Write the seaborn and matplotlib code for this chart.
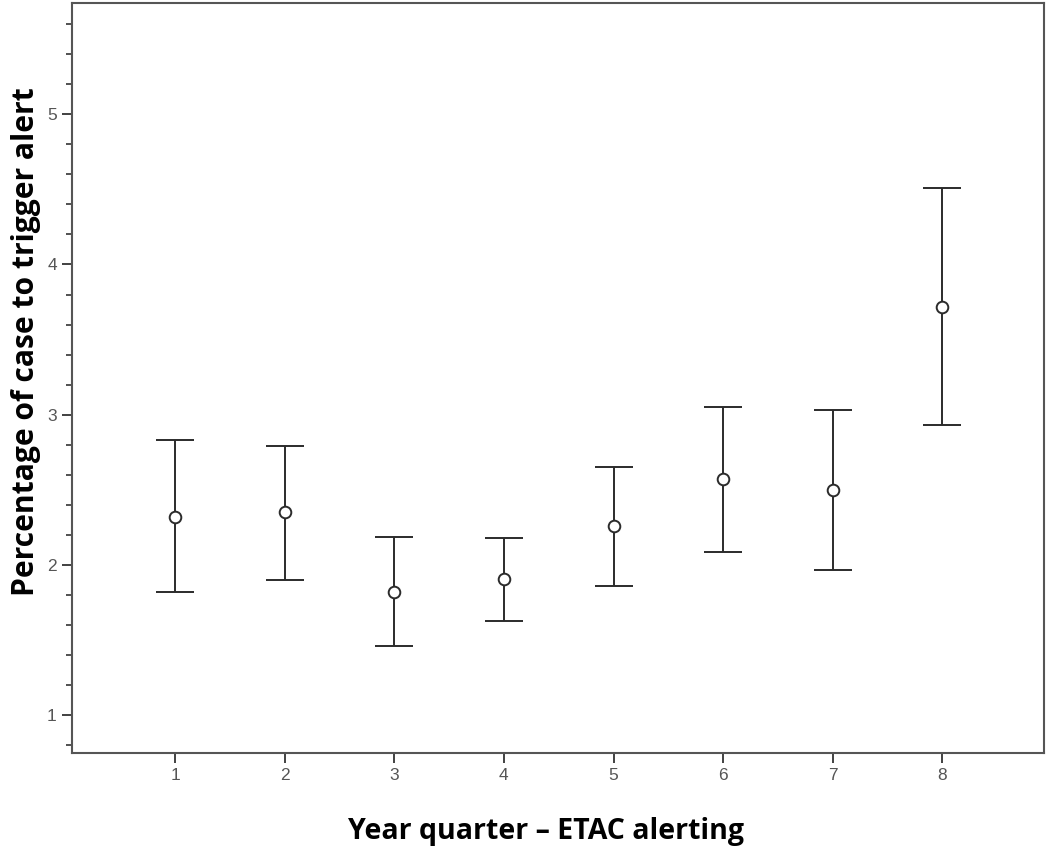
import matplotlib
matplotlib.use("Agg")
import matplotlib.pyplot as plt
import numpy as np
import pandas as pd
import seaborn as sns
from matplotlib.ticker import MultipleLocator

sns.set_theme(style="white")

quarters = [1, 2, 3, 4, 5, 6, 7, 8]
means = [2.32, 2.35, 1.82, 1.91, 2.26, 2.57, 2.50, 3.72]
lower = [1.82, 1.90, 1.46, 1.63, 1.86, 2.09, 1.97, 2.93]
upper = [2.83, 2.79, 2.19, 2.18, 2.65, 3.05, 3.03, 4.51]

df = pd.DataFrame({"quarter": quarters, "mean": means, "lo": lower, "hi": upper})

fig = plt.figure(figsize=(10.5, 8.47), dpi=100)
ax = fig.add_axes([0.0686, 0.111, 0.926, 0.8855])

line_col = "#2b2b2b"
yerr = np.vstack([df["mean"] - df["lo"], df["hi"] - df["mean"]])
ax.errorbar(df["quarter"], df["mean"], yerr=yerr, fmt="none", ecolor=line_col,
            elinewidth=1.4, capsize=14, capthick=1.4, zorder=2)
sns.scatterplot(data=df, x="quarter", y="mean", marker="o", s=70,
                facecolor="white", edgecolor=line_col, linewidth=1.4,
                zorder=3, ax=ax)

ax.set_xlim(0.06, 8.93)
ax.set_ylim(0.75, 5.74)
ax.set_xticks(quarters)
ax.yaxis.set_major_locator(MultipleLocator(1))
ax.yaxis.set_minor_locator(MultipleLocator(0.2))
ax.set_yticks([1, 2, 3, 4, 5])

for side, sp in ax.spines.items():
    sp.set_visible(True)
    sp.set_color("#555555")
    sp.set_linewidth(1.5)

ax.tick_params(axis="both", which="major", direction="out", length=7, width=1.3,
               color="#333333", labelsize=12.5, labelcolor="#555555",
               left=True, bottom=True, pad=4)
ax.tick_params(axis="y", which="minor", direction="out", length=4, width=1.2,
               color="#333333", left=True)
for lbl in ax.get_xticklabels() + ax.get_yticklabels():
    lbl.set_family(["Liberation Sans", "DejaVu Sans"])

ax.set_xlabel("Year quarter \u2013 ETAC alerting", fontsize=20.5, fontweight="bold",
              color="black", family=["Open Sans", "DejaVu Sans"], labelpad=24)
ax.set_ylabel("Percentage of case to trigger alert", fontsize=21.6, fontweight="bold",
              color="black", family=["Open Sans", "DejaVu Sans"], labelpad=4)
# the labels sit a little off-centre in the original
ax.xaxis.label.set_x(0.487)
ax.yaxis.label.set_y(0.548)

fig.savefig("out.png", dpi=100)
